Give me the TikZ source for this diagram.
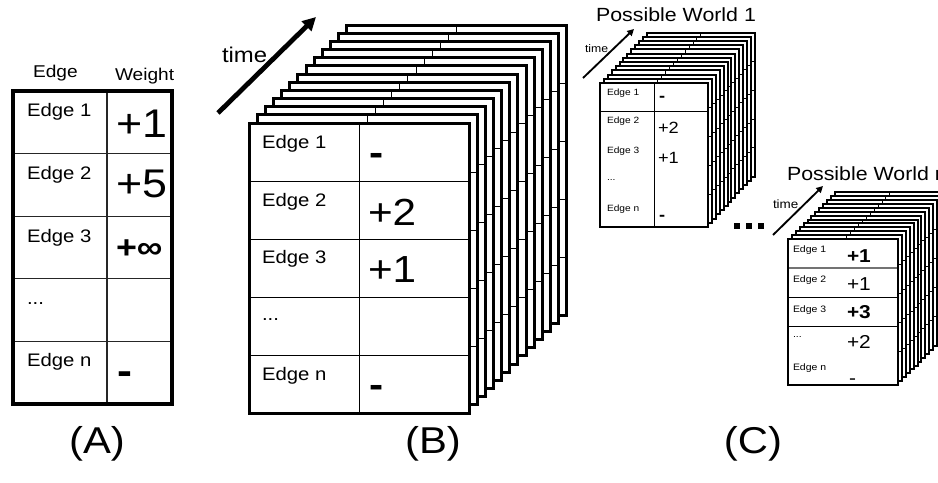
\documentclass[tikz,border=0pt]{standalone}
\usepackage{fontspec}
\setmainfont{Liberation Sans}[FakeStretch=1.12]
\usetikzlibrary{arrows.meta}
% back page of a stack: x, y (top-left), width, height, divider offset, border width
\newcommand\mypage[6]{%
  \fill[white] (#1,#2) rectangle ++(#3,#4);
  \foreach \r in {1,2,3,4}{\draw[line width=0.75pt] (#1,#2+\r*#4/5) -- ++(#3,0);}
  \draw[line width=0.75pt] (#1+#5,#2) -- ++(0,#4);
  \draw[line width=#6] (#1,#2) rectangle ++(#3,#4);
}
\tikzset{
  txt/.style={anchor=base west, inner sep=0pt, outer sep=0pt},
  labA/.style={txt, font=\fontsize{13.6}{16}\selectfont},
  hdr/.style={txt, font=\fontsize{12.8}{15}\selectfont},
  valA/.style={txt, font=\fontsize{30}{34}\selectfont},
  valB/.style={txt, font=\fontsize{28.3}{32}\selectfont},
  labS/.style={txt, font=\fontsize{6.8}{8}\selectfont},
  valS/.style={txt, font=\fontsize{12.2}{14}\selectfont},
  labN/.style={txt, font=\fontsize{7}{8}\selectfont},
  valN/.style={txt, font=\fontsize{14}{16}\selectfont},
  title/.style={txt, font=\fontsize{14.3}{17}\selectfont},
  bigl/.style={anchor=base, inner sep=0pt, font=\fontsize{28}{32}\selectfont},
  thinrule/.style={line width=0.8pt, black!85},
  bigarrow/.style={line width=3.6pt, -{Triangle[length=10pt,width=10pt]}},
  smallarrow/.style={line width=1.4pt, -{Triangle[length=5pt,width=5pt]}},
  sqdot/.style={fill=black, inner sep=0pt, minimum size=4.1pt, draw=none}
}
\begin{document}
\begin{tikzpicture}[x=0.75pt,y=-0.75pt]
\useasboundingbox (0,0) rectangle (938,482);
\clip (0,0) rectangle (938,482);
\fill[white] (0,0) rectangle (938,482);

% ================= (A) =================
\node[hdr] (hEdge) at (33,77) {Edge};
\node[hdr] (hWeight) at (115,80) {Weight};
\fill[white] (13,91) rectangle (172,404);
\foreach \yy in {153.6,216.2,278.8,341.4}{\draw[thinrule] (13,\yy) -- (172,\yy);}
\draw[thinrule] (107,91) -- (107,404);
\draw[line width=2.6pt] (13,91) rectangle (172,404);
\node[labA] (a1) at (27,116) {Edge 1};
\node[labA] (a2) at (27,179) {Edge 2};
\node[labA] (a3) at (27,242) {Edge 3};
\node[labA] (a4) at (27,304) {...};
\node[labA] (a5) at (27,366) {Edge n};
\node[valA] (w1) at (116,137) {+1};
\node[valA] (w2) at (116,197) {+5};
\node[txt, font=\fontsize{24}{28}\selectfont\bfseries] (w3) at (116,258) {+∞};
\node[valA, font=\fontsize{30}{34}\selectfont\bfseries] (w5) at (117,384) {-};

% ================= (B) =================
\foreach \k in {12,...,1}{
  \pgfmathsetmacro\px{249+8.15*\k}
  \pgfmathsetmacro\py{123-8.15*\k}
  \mypage{\px}{\py}{220}{290}{110}{2.25pt}
}
\mypage{249}{123}{220}{290}{110}{2.25pt}
\node[labA] (b1) at (262,148) {Edge 1};
\node[labA] (b2) at (262,206) {Edge 2};
\node[labA] (b3) at (262,263) {Edge 3};
\node[labA] (b4) at (262,320) {...};
\node[labA] (b5) at (262,380) {Edge n};
\node[valB, font=\fontsize{28.3}{32}\selectfont\bfseries] (v1) at (369,165) {-};
\node[valB] (v2) at (368,225) {+2};
\node[valB] (v3) at (368,282) {+1};
\node[valB, font=\fontsize{28.3}{32}\selectfont\bfseries] (v5) at (369,397) {-};
\coordinate (bt0) at (218,113);
\coordinate (bt1) at (316,17);
\draw[bigarrow] (bt0) -- (bt1);
\node[txt, font=\fontsize{16}{19}\selectfont] (btime) at (222,62) {time};

% ================= (C) world 1 =================
\node[title, anchor=base] (t1) at (676,21) {Possible World 1};
\foreach \k in {12,...,1}{
  \pgfmathsetmacro\px{600+3.9*\k}
  \pgfmathsetmacro\py{83-4.2*\k}
  \mypage{\px}{\py}{108}{144}{54}{1.5pt}
}
\fill[white] (600,83) rectangle (708,227);
\draw[line width=0.75pt] (600,111.8) -- (708,111.8);
\draw[line width=0.75pt] (654,83) -- (654,227);
\draw[line width=1.3pt] (600,83) rectangle (708,227);
\node[labS] (c1) at (607,95) {Edge 1};
\node[labS] (c2) at (607,123) {Edge 2};
\node[labS] (c3) at (607,153) {Edge 3};
\node[labS] (c4) at (607,180) {...};
\node[labS] (c5) at (607,211) {Edge n};
\node[valS, font=\fontsize{12.2}{14}\selectfont\bfseries] (cv1) at (659,101.5) {-};
\node[valS] (cv2) at (658,133) {+2};
\node[valS] (cv3) at (658,163) {+1};
\node[valS, font=\fontsize{12.2}{14}\selectfont\bfseries] (cv5) at (659,220.5) {-};
\coordinate (ct0) at (583,78);
\coordinate (ct1) at (634,29);
\draw[smallarrow] (ct0) -- (ct1);
\node[txt, font=\fontsize{8.2}{10}\selectfont] (ctime) at (585,52) {time};

% dots
\node[sqdot] (d1) at (737,226) {};
\node[sqdot] (d2) at (749,226) {};
\node[sqdot] (d3) at (761,226) {};

% ================= (C) world n =================
\node[title] (tn) at (787,180) {Possible World n};
\foreach \k in {12,...,1}{
  \pgfmathsetmacro\px{788+3.9*\k}
  \pgfmathsetmacro\py{239-3.9*\k}
  \mypage{\px}{\py}{110}{146}{55}{1.5pt}
}
\fill[white] (788,239) rectangle (898,385);
\draw[line width=1.2pt, black!55] (788,268.2) -- (898,268.2);
\draw[line width=0.9pt] (788,297.4) -- (898,297.4);
\draw[line width=0.9pt] (788,326.6) -- (898,326.6);
\draw[line width=1.3pt] (788,239) rectangle (898,385);
\node[labN] (n1) at (793,252) {Edge 1};
\node[labN] (n2) at (793,282) {Edge 2};
\node[labN] (n3) at (793,312) {Edge 3};
\node[labN] (n4) at (793,337) {...};
\node[labN] (n5) at (793,370) {Edge n};
\node[valN, font=\fontsize{14}{16}\selectfont\bfseries] (nv1) at (847,262) {+1};
\node[valN] (nv2) at (847,290) {+1};
\node[valN, font=\fontsize{14}{16}\selectfont\bfseries] (nv3) at (847,318) {+3};
\node[valN] (nv4) at (847,348) {+2};
\node[valN] (nv5) at (849,384) {-};
\coordinate (nt0) at (773,235);
\coordinate (nt1) at (823,186);
\draw[smallarrow] (nt0) -- (nt1);
\node[txt, font=\fontsize{9}{11}\selectfont] (ntime) at (773,208) {time};

% ================= labels =================
\node[bigl] (LA) at (97,453) {(A)};
\node[bigl] (LB) at (433,453) {(B)};
\node[bigl] (LC) at (753,453) {(C)};
\end{tikzpicture}
\end{document}
